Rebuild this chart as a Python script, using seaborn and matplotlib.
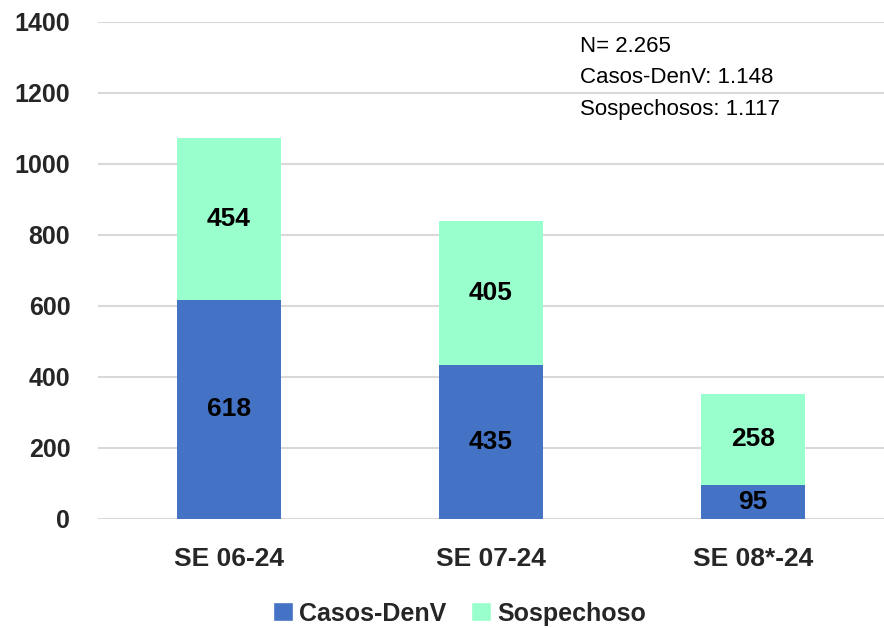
import numpy as np
import pandas as pd
import matplotlib
matplotlib.use('Agg')
import matplotlib.pyplot as plt
import seaborn as sns
from matplotlib.patches import Patch

# chart data
semanas = ['SE 06-24', 'SE 07-24', 'SE 08*-24']
casos_denv = [618, 435, 95]
sospechosos = [454, 405, 258]
resumen = ['N= 2.265', 'Casos-DenV: 1.148', 'Sospechosos: 1.117']

azul = '#4472C4'
menta = '#99FFCC'

sns.set_style('white')
plt.rcParams['font.family'] = ['Liberation Sans', 'DejaVu Sans']

df = pd.DataFrame({'semana': semanas, 'casos': casos_denv, 'sosp': sospechosos})
df['total'] = df['casos'] + df['sosp']

fig = plt.figure(figsize=(8.84, 6.28), dpi=100)
ax = fig.add_axes([0.1109, 0.1736, 0.8891, 0.7914])

# stacked bars: totals first, lower segment drawn over them
sns.barplot(data=df, x='semana', y='total', color=menta, width=0.40,
            saturation=1, linewidth=0, ax=ax, zorder=2)
sns.barplot(data=df, x='semana', y='casos', color=azul, width=0.40,
            saturation=1, linewidth=0, ax=ax, zorder=3)

# segment labels
for bar, c, s in zip(ax.containers[0], df['casos'], df['sosp']):
    x = bar.get_x() + bar.get_width() / 2
    ax.text(x, c + s / 2, f'{s}', ha='center', va='center',
            fontsize=19, fontweight='bold', color='black', zorder=4)
for bar, c in zip(ax.containers[1], df['casos']):
    x = bar.get_x() + bar.get_width() / 2
    ax.text(x, c / 2, f'{c}', ha='center', va='center',
            fontsize=19, fontweight='bold', color='black', zorder=4)

ax.set_ylim(0, 1400)
ax.set_xlim(-0.5, 2.5)
ax.set_yticks(np.arange(0, 1401, 200))
ax.yaxis.grid(True, color='#D9D9D9', linewidth=1.5, zorder=0)
ax.set_axisbelow(True)
for sp in ax.spines.values():
    sp.set_visible(False)
ax.set_xlabel('')
ax.set_ylabel('')
ax.tick_params(axis='both', length=0)
ax.tick_params(axis='y', pad=20, labelsize=18)
ax.tick_params(axis='x', pad=20, labelsize=19)
for lab in ax.get_xticklabels() + ax.get_yticklabels():
    lab.set_fontweight('bold')

# summary text, one line each
for linea, yv in zip(resumen, [1330, 1243, 1153]):
    ax.text(1.34, yv, linea, ha='left', va='center', fontsize=16,
            color='black')

handles = [Patch(facecolor=azul, label='Casos-DenV'),
           Patch(facecolor=menta, label='Sospechoso')]
fig.legend(handles=handles, loc='lower center', bbox_to_anchor=(0.52, -0.032),
           ncol=2, frameon=False, handlelength=0.8, handleheight=0.8,
           handletextpad=0.25, columnspacing=1.0,
           prop={'size': 18, 'weight': 'bold'})

fig.savefig('out.png', dpi=100)
